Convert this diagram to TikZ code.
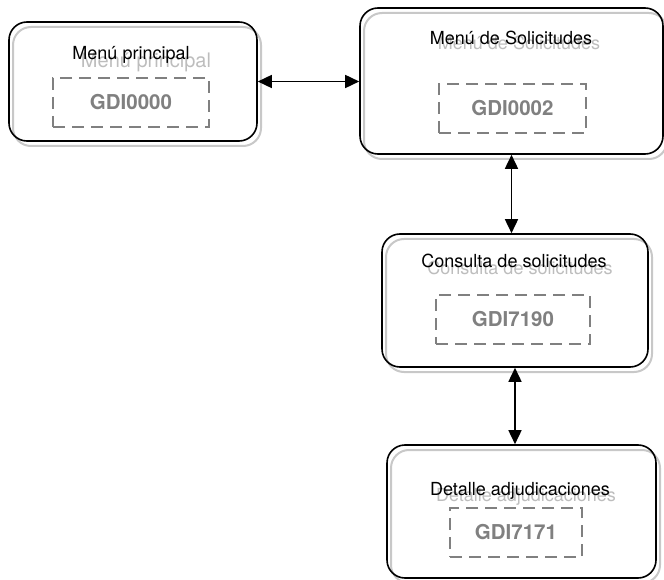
\documentclass[tikz,border=0pt]{standalone}
\usepackage{fontspec}
\setmainfont{TeX Gyre Heros}
\usetikzlibrary{arrows.meta}

\definecolor{shadegray}{HTML}{C8C8C8}
\definecolor{ghostgray}{HTML}{BDBDBD}
\definecolor{codegray}{HTML}{808080}

\begin{document}
\begin{tikzpicture}[x=1pt, y=-1pt,
    screen/.style={draw=black, line width=1.6pt, rounded corners=18pt, inner sep=0pt,
        preaction={draw=shadegray, line width=2pt, transform canvas={shift={(4pt,-5pt)}}}},
    title/.style={anchor=base, font=\fontsize{18}{21}\selectfont},
    ghost/.style={title, text=ghostgray},
    codebox/.style={draw=codegray, line width=1.5pt, dash pattern=on 12pt off 7pt,
        minimum height=49pt, inner sep=0pt, text=codegray,
        font=\fontsize{20.5}{24}\selectfont\bfseries},
    link/.style={line width=1.6pt, {Triangle[length=14pt,width=13pt]}-{Triangle[length=14pt,width=13pt]}}]

    \useasboundingbox (0,0) rectangle (664,580);

    % Menu principal
    \node[screen, minimum width=248pt, minimum height=119pt] (menu) at (133,81.5) {};
    \node[ghost, font=\fontsize{20}{23}\selectfont] (menughost) at (146,68) {Menú principal};
    \node[title] (menutitle) at (131,60) {Menú principal};
    \node[codebox, minimum width=156pt] (menucode) at (131,102.5) {GDI0000};

    % Menu de solicitudes
    \node[screen, minimum width=303pt, minimum height=146pt] (solic) at (511.5,81) {};
    \node[ghost] (solicghost) at (519,50) {Menú de Solicitudes};
    \node[title] (solictitle) at (511,45) {Menú de Solicitudes};
    \node[codebox, minimum width=147pt] (soliccode) at (512.5,108.5) {GDI0002};

    % Consulta de solicitudes
    \node[screen, minimum width=266pt, minimum height=133pt] (consulta) at (515,300.5) {};
    \node[ghost] (consultaghost) at (520,274) {Consulta de solicitudes};
    \node[title] (consultatitle) at (514,268) {Consulta de solicitudes};
    \node[codebox, minimum width=154pt] (consultacode) at (513,319.5) {GDI7190};

    % Detalle adjudicaciones
    \node[screen, minimum width=269pt, minimum height=133pt] (detalle) at (521.5,511.5) {};
    \node[ghost] (detalleghost) at (526,501) {Detalle adjudicaciones};
    \node[title] (detalletitle) at (520,495) {Detalle adjudicaciones};
    \node[codebox, minimum width=132pt] (detallecode) at (516,532.5) {GDI7171};

    % Links
    \draw[link] (menu.east) -- (menu.east -| solic.west);
    \draw[link] (solic.south) -- (solic.south |- consulta.north);
    \draw[link] (consulta.south) -- (consulta.south |- detalle.north);

\end{tikzpicture}
\end{document}
